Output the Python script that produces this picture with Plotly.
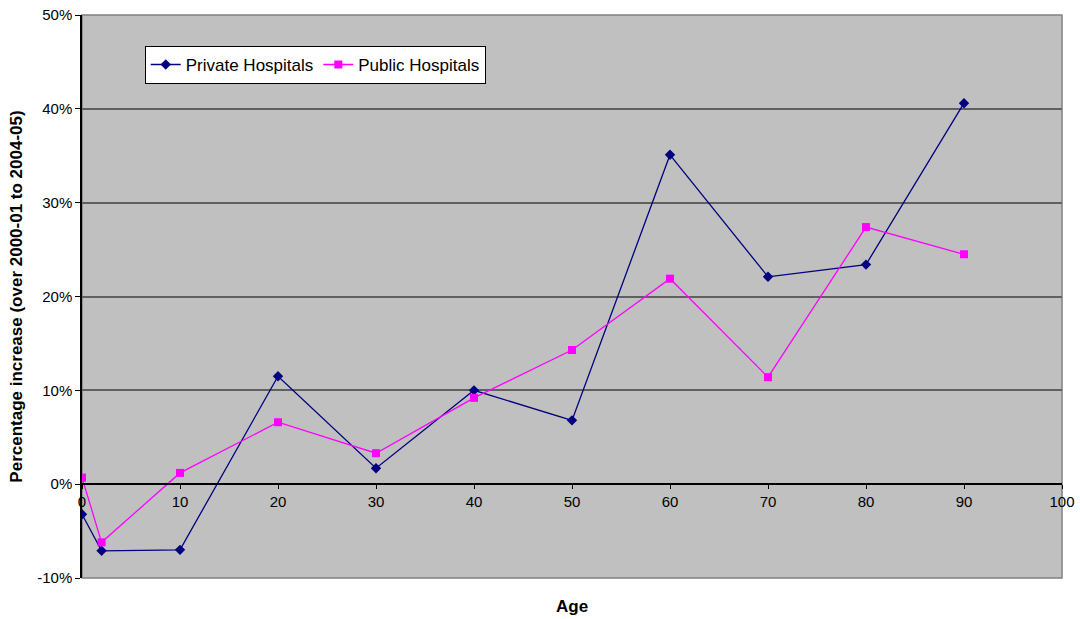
import plotly.graph_objects as go

ages = [0, 2, 10, 20, 30, 40, 50, 60, 70, 80, 90]
private_pct = [-3.2, -7.1, -7.0, 11.5, 1.7, 10.0, 6.8, 35.1, 22.1, 23.4, 40.6]
public_pct = [0.7, -6.2, 1.2, 6.6, 3.3, 9.2, 14.3, 21.9, 11.4, 27.4, 24.5]
x_ticks = [0, 10, 20, 30, 40, 50, 60, 70, 80, 90, 100]
y_ticks = [-10, 0, 10, 20, 30, 40, 50]
y_labels = [f"{v}%" for v in y_ticks]

FONT = "Liberation Sans, Arial, sans-serif"

fig = go.Figure()
fig.add_trace(go.Scatter(x=ages, y=private_pct, name="Private Hospitals", mode="lines+markers",
                         line=dict(color="#000080", width=1.3),
                         marker=dict(symbol="diamond", size=8, color="#000080")))
fig.add_trace(go.Scatter(x=ages, y=public_pct, name="Public Hospitals", mode="lines+markers",
                         line=dict(color="#FF00FF", width=1.3),
                         marker=dict(symbol="square", size=8, color="#FF00FF")))

fig.update_layout(
    width=1080, height=619,
    margin=dict(l=82, r=18, t=15, b=41, autoexpand=False),
    paper_bgcolor="white", plot_bgcolor="#C0C0C0",
    font=dict(family=FONT, size=15, color="black"),
    showlegend=True,
    legend=dict(orientation="h", x=0.064, y=0.945, xanchor="left", yanchor="top",
                bgcolor="white", bordercolor="black", borderwidth=1,
                font=dict(family=FONT, size=17), itemwidth=30, tracegroupgap=0),
    xaxis=dict(range=[0, 100], tickvals=x_ticks, ticktext=[str(v) for v in x_ticks],
               anchor="free", position=1/6, showline=True, linecolor="black", linewidth=1.5,
               ticks="outside", ticklen=4, tickcolor="black", showgrid=False, zeroline=False,
               automargin=False, ticklabeloverflow="allow", tickfont=dict(family=FONT, size=15)),
    yaxis=dict(range=[-10, 50], tickvals=y_ticks, ticktext=y_labels,
               showline=True, linecolor="black", linewidth=1.5, ticks="outside", ticklen=5,
               tickcolor="black", showgrid=True, gridcolor="#606060", gridwidth=1.5,
               zeroline=False, automargin=False, ticklabeloverflow="allow",
               tickfont=dict(family=FONT, size=15),
               title=dict(text="<b>Percentage increase (over 2000-01 to 2004-05)</b>",
                          font=dict(family=FONT, size=17), standoff=10)),
)

fig.add_shape(type="rect", xref="paper", yref="paper", x0=0, x1=1, y0=0, y1=1,
              line=dict(color="#808080", width=1.5), layer="below")
fig.add_annotation(text="<b>Age</b>", xref="paper", yref="paper", x=0.5, y=0,
                   yshift=-28, showarrow=False, yanchor="middle",
                   font=dict(family=FONT, size=17))

fig.write_html("out.html", config={"displayModeBar": False},
               post_script="document.body.style.margin='0';document.body.style.overflow='hidden';")
